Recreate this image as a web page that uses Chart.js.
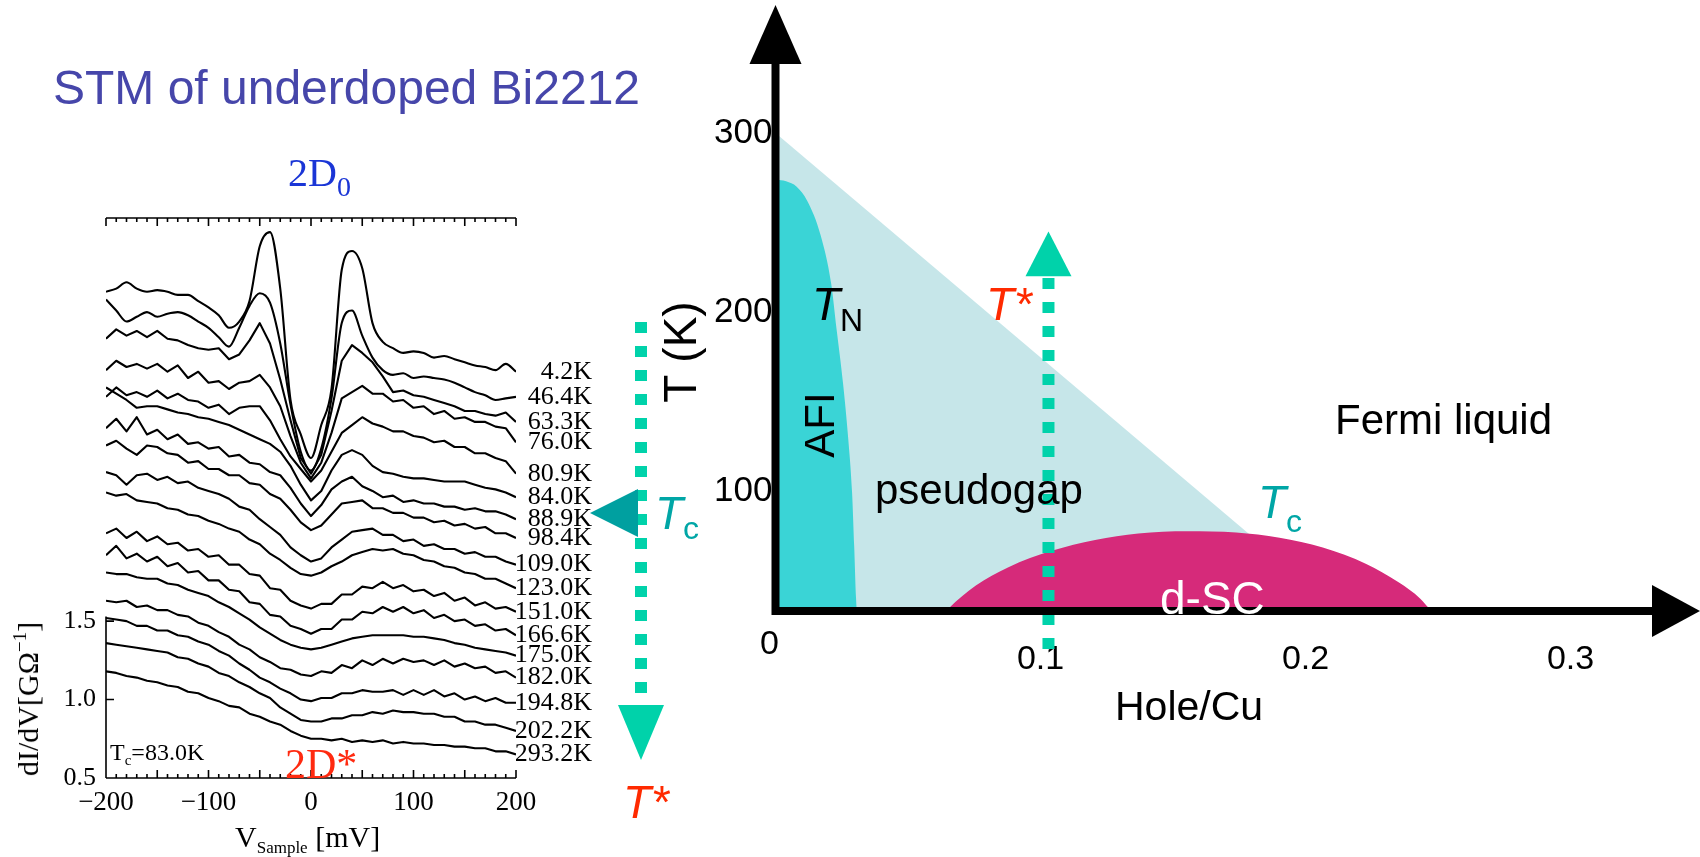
<!DOCTYPE html>
<html>
<head>
<meta charset="utf-8">
<script src="https://cdn.jsdelivr.net/npm/chart.js@4.4.1/dist/chart.umd.min.js"></script>
<style>
  html, body { margin: 0; padding: 0; background: #fff; }
  body { width: 1700px; height: 857px; position: relative; overflow: hidden; }
  canvas { position: absolute; top: 0; }
  #stmChart { left: 0; }
  #phaseChart { left: 600px; }
  .t { position: absolute; white-space: nowrap; line-height: 1; }
  .sans { font-family: "Liberation Sans", Arial, sans-serif; }
  .serif { font-family: "Liberation Serif", "Times New Roman", serif; }
  .it { font-style: italic; }
  .up { font-style: normal; }
  .rot { transform: translate(-50%, -50%) rotate(-90deg); }
</style>
</head>
<body>
<canvas id="stmChart" width="700" height="857"></canvas>
<canvas id="phaseChart" width="1100" height="857"></canvas>

<div class="t sans" style="left:53px;top:64px;font-size:48px;color:#4646aa">STM of underdoped Bi2212</div>
<div class="t serif" style="left:288px;top:153px;font-size:40px;color:#1a35d6">2D<span style="font-size:28px;position:relative;top:10px">0</span></div>
<div class="t serif rot" style="left:28px;top:699px;font-size:30px">dI/dV[GΩ<span style="font-size:19px;position:relative;top:-12px">−1</span>]</div>
<div class="t serif" style="left:235px;top:822px;font-size:30px">V<span style="font-size:17px;position:relative;top:6px">Sample</span> [mV]</div>
<div class="t serif" style="left:110px;top:740px;font-size:24px">T<span style="font-size:15px;position:relative;top:5px">c</span>=83.0K</div>
<div class="t serif" style="left:285px;top:743px;font-size:42px;color:#ff2a10">2D*</div>
<div class="t sans it" style="left:655px;top:490px;font-size:46px;color:#00a6a6">T<span class="up" style="font-size:32px;position:relative;top:10px">c</span></div>
<div class="t sans it" style="left:623px;top:779px;font-size:46px;color:#ff2a00">T*</div>

<div class="t sans rot" style="left:680px;top:352px;font-size:46px">T (K)</div>
<div class="t sans" style="left:760px;top:625px;font-size:34px">0</div>
<div class="t sans it" style="left:812px;top:281px;font-size:46px">T<span class="up" style="font-size:32px;position:relative;top:11px">N</span></div>
<div class="t sans rot" style="left:820px;top:425px;font-size:42px">AFI</div>
<div class="t sans" style="left:875px;top:469px;font-size:42px">pseudogap</div>
<div class="t sans" style="left:1335px;top:399px;font-size:42px">Fermi liquid</div>
<div class="t sans it" style="left:1258px;top:479px;font-size:46px;color:#00a6a6">T<span class="up" style="font-size:32px;position:relative;top:14px">c</span></div>
<div class="t sans it" style="left:986px;top:281px;font-size:46px;color:#ff2a00">T*</div>
<div class="t sans" style="left:1160px;top:575px;font-size:46px;color:#fff">d-SC</div>
<div class="t sans" style="left:1115px;top:686px;font-size:41px">Hole/Cu</div>

<script>
// sample bias (mV)
const mV = [-200, -190, -180, -170, -160, -150, -140, -130, -120, -110,
    -100, -90, -80, -70, -60, -50, -40, -30, -20, -10,
    0, 10, 20, 30, 40, 50, 60, 70, 80, 90,
    100, 110, 120, 130, 140, 150, 160, 170, 180, 190, 200];

// dI/dV spectra, offset as in the figure
const s4_2 = [3.60, 3.62, 3.66, 3.62, 3.60, 3.61, 3.60, 3.58, 3.58, 3.54,
    3.50, 3.45, 3.37, 3.41, 3.54, 3.89, 3.98, 3.62, 2.91, 2.69,
    2.54, 2.75, 2.98, 3.74, 3.86, 3.75, 3.40, 3.28, 3.24, 3.21,
    3.22, 3.21, 3.18, 3.19, 3.17, 3.15, 3.13, 3.12, 3.10, 3.14, 3.09];
const s46_4 = [3.55, 3.48, 3.41, 3.44, 3.47, 3.44, 3.46, 3.47, 3.45, 3.41,
    3.37, 3.31, 3.25, 3.37, 3.51, 3.59, 3.53, 3.27, 2.88, 2.58,
    2.46, 2.60, 2.92, 3.40, 3.48, 3.32, 3.18, 3.10, 3.07, 3.08,
    3.05, 3.06, 3.05, 3.04, 3.02, 2.99, 2.96, 2.94, 2.91, 2.92, 2.93];
const s63_3 = [3.30, 3.36, 3.32, 3.35, 3.31, 3.35, 3.30, 3.29, 3.26, 3.24,
    3.23, 3.24, 3.17, 3.20, 3.29, 3.40, 3.27, 3.04, 2.78, 2.54,
    2.44, 2.56, 2.84, 3.16, 3.26, 3.21, 3.15, 3.06, 2.96, 2.97,
    2.94, 2.93, 2.91, 2.89, 2.87, 2.84, 2.84, 2.82, 2.81, 2.83, 2.77];
const s76_0 = [3.10, 3.16, 3.12, 3.14, 3.11, 3.14, 3.09, 3.13, 3.05, 3.09,
    3.02, 3.03, 2.98, 3.02, 3.03, 3.07, 2.99, 2.87, 2.68, 2.51,
    2.41, 2.51, 2.70, 2.92, 2.96, 3.00, 2.95, 2.95, 2.90, 2.91,
    2.86, 2.87, 2.82, 2.84, 2.79, 2.80, 2.77, 2.77, 2.74, 2.73, 2.64];
const s80_9 = [2.93, 2.99, 2.94, 2.96, 2.93, 2.97, 2.92, 2.95, 2.91, 2.90,
    2.86, 2.88, 2.82, 2.86, 2.87, 2.87, 2.78, 2.66, 2.55, 2.47,
    2.39, 2.46, 2.58, 2.70, 2.75, 2.80, 2.76, 2.74, 2.71, 2.71,
    2.68, 2.67, 2.64, 2.65, 2.61, 2.61, 2.57, 2.57, 2.54, 2.52, 2.44];
const s84_0 = [2.99, 2.95, 2.91, 2.86, 2.87, 2.87, 2.85, 2.83, 2.82, 2.80,
    2.79, 2.77, 2.75, 2.72, 2.69, 2.66, 2.63, 2.58, 2.49, 2.37,
    2.27, 2.33, 2.46, 2.56, 2.59, 2.56, 2.49, 2.45, 2.44, 2.42,
    2.41, 2.41, 2.40, 2.39, 2.39, 2.39, 2.37, 2.35, 2.34, 2.32, 2.29];
const s88_9 = [2.73, 2.79, 2.71, 2.80, 2.69, 2.72, 2.66, 2.69, 2.63, 2.64,
    2.60, 2.61, 2.55, 2.56, 2.51, 2.50, 2.45, 2.43, 2.35, 2.25,
    2.17, 2.24, 2.34, 2.39, 2.42, 2.36, 2.33, 2.29, 2.30, 2.26,
    2.27, 2.25, 2.25, 2.23, 2.23, 2.21, 2.22, 2.20, 2.20, 2.18, 2.15];
const s98_4 = [2.62, 2.65, 2.60, 2.56, 2.62, 2.61, 2.57, 2.56, 2.51, 2.52,
    2.47, 2.47, 2.43, 2.43, 2.38, 2.37, 2.31, 2.28, 2.21, 2.13,
    2.08, 2.11, 2.18, 2.25, 2.26, 2.27, 2.22, 2.22, 2.19, 2.19,
    2.16, 2.16, 2.13, 2.14, 2.11, 2.12, 2.09, 2.10, 2.06, 2.06, 2.03];
const s109_0 = [2.45, 2.43, 2.37, 2.43, 2.44, 2.40, 2.42, 2.38, 2.39, 2.35,
    2.33, 2.31, 2.28, 2.23, 2.21, 2.15, 2.10, 2.05, 1.97, 1.92,
    1.88, 1.90, 1.97, 2.02, 2.07, 2.08, 2.09, 2.05, 2.05, 2.01,
    2.02, 1.98, 1.99, 1.96, 1.96, 1.93, 1.94, 1.91, 1.91, 1.88, 1.86];
const s123_0 = [2.32, 2.30, 2.31, 2.27, 2.26, 2.25, 2.22, 2.21, 2.18, 2.17,
    2.14, 2.12, 2.09, 2.07, 2.02, 1.99, 1.93, 1.89, 1.84, 1.80,
    1.79, 1.81, 1.85, 1.88, 1.92, 1.94, 1.96, 1.95, 1.96, 1.93,
    1.92, 1.89, 1.88, 1.85, 1.84, 1.81, 1.80, 1.77, 1.77, 1.74, 1.71];
const s151_0 = [2.06, 2.09, 2.03, 2.07, 2.01, 2.04, 1.99, 2.00, 1.95, 1.96,
    1.91, 1.92, 1.86, 1.86, 1.80, 1.79, 1.71, 1.70, 1.63, 1.60,
    1.58, 1.61, 1.61, 1.67, 1.67, 1.72, 1.71, 1.75, 1.71, 1.73,
    1.69, 1.70, 1.66, 1.68, 1.63, 1.65, 1.60, 1.62, 1.58, 1.59, 1.56];
const s166_6 = [1.92, 1.98, 1.90, 1.93, 1.88, 1.91, 1.85, 1.87, 1.81, 1.82,
    1.76, 1.76, 1.70, 1.69, 1.62, 1.61, 1.54, 1.53, 1.47, 1.45,
    1.42, 1.45, 1.45, 1.51, 1.51, 1.56, 1.55, 1.59, 1.56, 1.59,
    1.55, 1.57, 1.52, 1.54, 1.50, 1.51, 1.47, 1.48, 1.44, 1.45, 1.41];
const s175_0 = [1.81, 1.80, 1.80, 1.78, 1.77, 1.77, 1.74, 1.73, 1.70, 1.68,
    1.66, 1.62, 1.59, 1.55, 1.51, 1.46, 1.42, 1.38, 1.35, 1.33,
    1.32, 1.33, 1.35, 1.37, 1.39, 1.40, 1.41, 1.41, 1.41, 1.41,
    1.40, 1.40, 1.39, 1.38, 1.36, 1.35, 1.33, 1.32, 1.31, 1.30, 1.28];
const s182_0 = [1.63, 1.62, 1.63, 1.59, 1.60, 1.57, 1.57, 1.54, 1.53, 1.49,
    1.47, 1.43, 1.40, 1.35, 1.32, 1.27, 1.24, 1.20, 1.19, 1.16,
    1.15, 1.18, 1.17, 1.22, 1.20, 1.25, 1.22, 1.26, 1.23, 1.26,
    1.24, 1.25, 1.22, 1.25, 1.21, 1.23, 1.20, 1.21, 1.17, 1.18, 1.14];
const s194_8 = [1.52, 1.51, 1.50, 1.47, 1.47, 1.44, 1.44, 1.41, 1.40, 1.37,
    1.35, 1.31, 1.28, 1.23, 1.19, 1.14, 1.11, 1.07, 1.04, 1.00,
    0.99, 1.01, 1.01, 1.04, 1.04, 1.06, 1.05, 1.05, 1.06, 1.03,
    1.06, 1.03, 1.06, 1.02, 1.04, 1.00, 1.02, 0.99, 1.01, 0.98, 0.98];
const s202_2 = [1.36, 1.35, 1.34, 1.33, 1.32, 1.31, 1.30, 1.27, 1.26, 1.23,
    1.21, 1.17, 1.15, 1.11, 1.08, 1.04, 1.01, 0.95, 0.91, 0.87,
    0.86, 0.86, 0.88, 0.88, 0.90, 0.90, 0.92, 0.91, 0.93, 0.92,
    0.92, 0.91, 0.91, 0.89, 0.89, 0.86, 0.86, 0.84, 0.84, 0.82, 0.80];
const s293_2 = [1.18, 1.17, 1.15, 1.14, 1.12, 1.11, 1.09, 1.08, 1.05, 1.04,
    1.01, 0.99, 0.96, 0.95, 0.91, 0.89, 0.86, 0.84, 0.80, 0.77,
    0.75, 0.75, 0.74, 0.75, 0.73, 0.74, 0.73, 0.74, 0.72, 0.73,
    0.72, 0.72, 0.71, 0.71, 0.70, 0.70, 0.69, 0.69, 0.67, 0.67, 0.65];

const tempLabels = ["4.2K", "46.4K", "63.3K", "76.0K", "80.9K", "84.0K", "88.9K", "98.4K",
    "109.0K", "123.0K", "151.0K", "166.6K", "175.0K", "182.0K", "194.8K", "202.2K", "293.2K"];
const spectra = [s4_2, s46_4, s63_3, s76_0, s80_9, s84_0, s88_9, s98_4,
    s109_0, s123_0, s151_0, s166_6, s175_0, s182_0, s194_8, s202_2, s293_2];

const biasTicks = [-200, -100, 0, 100, 200];
const condTicks = [0.5, 1.0, 1.5];

// phase diagram boundaries (hole/Cu, K)
const tStarX = [0, 0.213];
const tStarT = [300, 33];
const afiX = [0, 0.004, 0.008, 0.012, 0.017, 0.021, 0.023, 0.0255, 0.0274, 0.0289, 0.0297, 0.0304, 0.0307];
const afiT = [274, 273, 270, 262, 243, 216, 191, 160, 130, 99, 69, 40, 33];
const scX = [0.0645, 0.0654, 0.0756, 0.0879, 0.1042, 0.1206, 0.1369, 0.1554, 0.1738,
    0.1902, 0.2065, 0.2229, 0.2351, 0.2433, 0.2466, 0.2475];
const scT = [33, 34.5, 47.2, 57.5, 66.6, 72.7, 76.3, 77.5, 76.9,
    73.9, 68.4, 59.3, 49.0, 39.9, 34.5, 33];

// the origin "0" sits off-axis in the figure, so it is placed as text above
const dopingTicks = [0.1, 0.2, 0.3];
const tempTicks = [100, 200, 300];

const serif = "Liberation Serif";
const sans = "Liberation Sans";
const sweepColor = "#00d2aa";

const toPoints = (xs, ys) => xs.map((x, i) => ({ x: x, y: ys[i] }));

// axes frame + teal temperature sweep arrow of the STM panel
const stmFrame = {
    id: "stmFrame",
    afterDatasetsDraw(chart) {
        const { ctx, chartArea: a } = chart;
        const x = chart.scales.x;
        const y = chart.scales.y;
        ctx.save();
        ctx.strokeStyle = "#000";
        ctx.lineWidth = 1.6;
        ctx.beginPath();
        ctx.moveTo(a.left, a.top);
        ctx.lineTo(a.right, a.top);
        ctx.moveTo(a.left, a.bottom);
        ctx.lineTo(a.right, a.bottom);
        ctx.moveTo(a.left, a.bottom);
        ctx.lineTo(a.left, y.getPixelForValue(1.53));
        for (let v = -200; v <= 200; v += 10) {
            const px = x.getPixelForValue(v);
            const len = v % 50 === 0 ? 8 : 4;
            ctx.moveTo(px, a.top);
            ctx.lineTo(px, a.top + len);
            ctx.moveTo(px, a.bottom);
            ctx.lineTo(px, a.bottom - len);
        }
        condTicks.forEach((v) => {
            const py = y.getPixelForValue(v);
            ctx.moveTo(a.left, py);
            ctx.lineTo(a.left + 8, py);
        });
        ctx.stroke();

        // dotted arrow (T rising downwards)
        const ax = a.right + 125;
        ctx.strokeStyle = sweepColor;
        ctx.lineWidth = 12;
        ctx.setLineDash([11, 13]);
        ctx.beginPath();
        ctx.moveTo(ax, a.top + 104);
        ctx.lineTo(ax, a.top + 487);
        ctx.stroke();
        ctx.setLineDash([]);
        ctx.fillStyle = sweepColor;
        ctx.beginPath();
        ctx.moveTo(ax - 23, a.top + 487);
        ctx.lineTo(ax + 23, a.top + 487);
        ctx.lineTo(ax, a.top + 542);
        ctx.closePath();
        ctx.fill();

        // Tc marker
        ctx.fillStyle = "#00a0a0";
        ctx.beginPath();
        ctx.moveTo(a.right + 74, a.top + 295);
        ctx.lineTo(a.right + 122, a.top + 271);
        ctx.lineTo(a.right + 122, a.top + 319);
        ctx.closePath();
        ctx.fill();
        ctx.restore();
    },
};

new Chart(document.getElementById("stmChart"), {
    type: "line",
    data: {
        datasets: spectra.map((vals, i) => ({
            label: tempLabels[i],
            data: toPoints(mV, vals),
            borderColor: "#000",
            borderWidth: 2.1,
            borderJoinStyle: "round",
            pointRadius: 0,
            fill: false,
            tension: 0,
            cubicInterpolationMode: i < 2 ? "monotone" : "default",
        })),
    },
    options: {
        responsive: false,
        animation: false,
        devicePixelRatio: 1,
        layout: { padding: { top: 218, right: 108, left: 0, bottom: 0 } },
        plugins: { legend: { display: false }, tooltip: { enabled: false } },
        scales: {
            x: {
                type: "linear",
                position: "bottom",
                min: -200,
                max: 200,
                grid: { display: false, drawTicks: false },
                border: { display: false },
                afterBuildTicks: (s) => { s.ticks = biasTicks.map((v) => ({ value: v })); },
                afterFit: (s) => { s.height = 79; },
                ticks: {
                    autoSkip: false,
                    maxRotation: 0,
                    padding: 9,
                    color: "#000",
                    font: { family: serif, size: 27 },
                    callback: (v) => (v < 0 ? "\u2212" + Math.abs(v) : String(v)),
                },
            },
            y: {
                type: "linear",
                position: "left",
                min: 0.5,
                max: 4.07,
                grid: { display: false, drawTicks: false },
                border: { display: false },
                afterBuildTicks: (s) => { s.ticks = condTicks.map((v) => ({ value: v })); },
                afterFit: (s) => { s.width = 106; },
                ticks: {
                    autoSkip: false,
                    padding: 10,
                    color: "#000",
                    font: { family: serif, size: 26 },
                    callback: (v) => Number(v).toFixed(1),
                },
            },
            yr: {
                type: "linear",
                position: "right",
                min: 0.5,
                max: 4.07,
                grid: { display: false, drawTicks: false },
                border: { display: false },
                afterBuildTicks: (s) => {
                    s.ticks = spectra.map((vals) => ({ value: vals[vals.length - 1] }));
                },
                afterFit: (s) => { s.width = 76; },
                ticks: {
                    autoSkip: false,
                    crossAlign: "far",
                    padding: 0,
                    color: "#000",
                    font: { family: serif, size: 26 },
                    callback: (v, i) => tempLabels[i],
                },
            },
        },
    },
    plugins: [stmFrame],
});

// thick arrowed axes + T* sweep arrow of the phase diagram
const phaseFrame = {
    id: "phaseFrame",
    afterDatasetsDraw(chart) {
        const { ctx, chartArea: a } = chart;
        const x = chart.scales.x;
        const y = chart.scales.y;
        ctx.save();

        const ax = x.getPixelForValue(0.103);
        ctx.strokeStyle = sweepColor;
        ctx.lineWidth = 12;
        ctx.setLineDash([11, 13]);
        ctx.beginPath();
        ctx.moveTo(ax, y.getPixelForValue(219));
        ctx.lineTo(ax, y.getPixelForValue(6));
        ctx.stroke();
        ctx.setLineDash([]);
        ctx.fillStyle = sweepColor;
        ctx.beginPath();
        ctx.moveTo(ax - 23, y.getPixelForValue(220));
        ctx.lineTo(ax + 23, y.getPixelForValue(220));
        ctx.lineTo(ax, y.getPixelForValue(245));
        ctx.closePath();
        ctx.fill();

        ctx.strokeStyle = "#000";
        ctx.fillStyle = "#000";
        ctx.lineWidth = 8;
        ctx.beginPath();
        ctx.moveTo(a.left, a.bottom + 4);
        ctx.lineTo(a.left, a.top);
        ctx.moveTo(a.left - 4, a.bottom);
        ctx.lineTo(a.right, a.bottom);
        ctx.stroke();
        ctx.beginPath();
        ctx.moveTo(a.left - 26, a.top + 1);
        ctx.lineTo(a.left + 26, a.top + 1);
        ctx.lineTo(a.left, a.top - 58);
        ctx.closePath();
        ctx.fill();
        ctx.beginPath();
        ctx.moveTo(a.right - 1, a.bottom - 26);
        ctx.lineTo(a.right - 1, a.bottom + 26);
        ctx.lineTo(a.right + 47, a.bottom);
        ctx.closePath();
        ctx.fill();
        ctx.restore();
    },
};

new Chart(document.getElementById("phaseChart"), {
    type: "line",
    data: {
        datasets: [
            {
                label: "d-SC",
                data: toPoints(scX, scT),
                order: 1,
                fill: "start",
                backgroundColor: "#d62a7a",
                borderWidth: 0,
                pointRadius: 0,
                cubicInterpolationMode: "monotone",
            },
            {
                label: "AFI",
                data: toPoints(afiX, afiT),
                order: 2,
                fill: "start",
                backgroundColor: "#3ad4d6",
                borderWidth: 0,
                pointRadius: 0,
                cubicInterpolationMode: "monotone",
            },
            {
                label: "pseudogap",
                data: toPoints(tStarX, tStarT),
                order: 3,
                fill: "start",
                backgroundColor: "#c6e6e9",
                borderWidth: 0,
                pointRadius: 0,
            },
        ],
    },
    options: {
        responsive: false,
        animation: false,
        devicePixelRatio: 1,
        layout: { padding: { top: 63, right: 47, left: 0, bottom: 0 } },
        plugins: { legend: { display: false }, tooltip: { enabled: false } },
        scales: {
            x: {
                type: "linear",
                min: 0,
                max: 0.3311,
                grid: { display: false, drawTicks: false },
                border: { display: false },
                afterBuildTicks: (s) => { s.ticks = dopingTicks.map((v) => ({ value: v })); },
                afterFit: (s) => { s.height = 246; },
                ticks: {
                    autoSkip: false,
                    maxRotation: 0,
                    padding: 28,
                    color: "#000",
                    font: { family: sans, size: 34 },
                    callback: (v) => Number(v).toFixed(1),
                },
            },
            y: {
                type: "linear",
                min: 33,
                max: 339.1,
                grid: { display: false, drawTicks: false },
                border: { display: false },
                afterBuildTicks: (s) => { s.ticks = tempTicks.map((v) => ({ value: v })); },
                afterFit: (s) => { s.width = 175.5; },
                ticks: {
                    autoSkip: false,
                    padding: 3,
                    color: "#000",
                    font: { family: sans, size: 35 },
                },
            },
        },
    },
    plugins: [phaseFrame],
});
</script>
</body>
</html>
